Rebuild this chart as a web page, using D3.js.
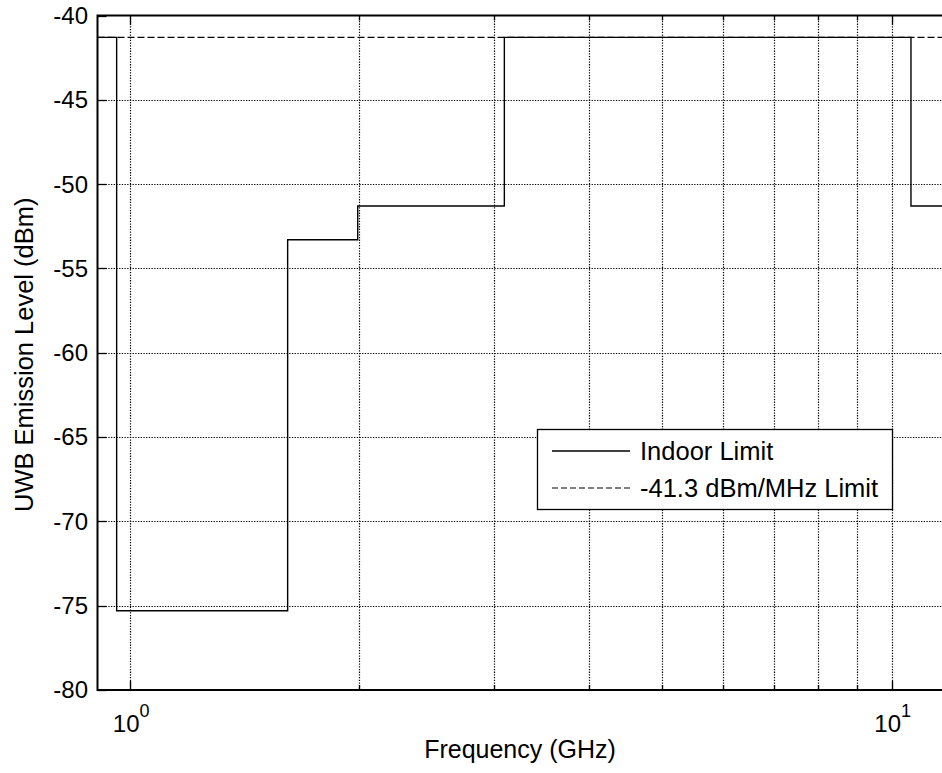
<!DOCTYPE html>
<html>
<head>
<meta charset="utf-8">
<script src="https://cdn.jsdelivr.net/npm/d3@7/dist/d3.min.js"></script>
<style>
  html, body { margin: 0; padding: 0; background: #fff; }
  svg text { font-family: "Liberation Sans", Arial, sans-serif; fill: #000; }
</style>
</head>
<body>
<svg id="chart" width="942" height="773"></svg>
<script>
// ---- data ----
const freqEdges = [0.906, 0.96, 1.61, 1.99, 3.1, 10.6, 12];   // GHz
const indoorLevels = [-41.3, -75.3, -53.3, -51.3, -41.3, -51.3]; // dBm
const limitLevel = -41.3;
const xDomain = [0.906, 12];
const yDomain = [-80, -40];
const yTicks = [-80, -75, -70, -65, -60, -55, -50, -45, -40];
const xMajorTicks = [1, 10];
const xMajorLabels = ["0", "1"];
const xMinorTicks = [2, 3, 4, 5, 6, 7, 8, 9];
const legendLabels = ["Indoor Limit", "-41.3 dBm/MHz Limit"];
const xTitle = "Frequency (GHz)";
const yTitle = "UWB Emission Level (dBm)";

// ---- layout ----
const L = 97.5, T = 15.5, B = 690, R = 952;
const svg = d3.select("#chart");
const x = d3.scaleLog().domain(xDomain).range([L, R]);
const y = d3.scaleLinear().domain(yDomain).range([B, T]);

svg.append("defs").append("clipPath").attr("id", "clip")
  .append("rect").attr("x", L).attr("y", T).attr("width", R - L).attr("height", B - T);

// grid
const grid = svg.append("g").attr("stroke", "#000").attr("stroke-width", 1.2)
  .attr("stroke-dasharray", "1.3,1.4").attr("clip-path", "url(#clip)");
const allX = xMajorTicks.concat(xMinorTicks);
grid.selectAll("line.gx").data(allX).join("line")
  .attr("x1", d => Math.round(x(d)) + 0.5).attr("x2", d => Math.round(x(d)) + 0.5)
  .attr("y1", T).attr("y2", B);
grid.selectAll("line.gy").data(yTicks.slice(1, -1)).join("line")
  .attr("y1", d => Math.round(y(d)) + 0.5).attr("y2", d => Math.round(y(d)) + 0.5)
  .attr("x1", L).attr("x2", R);

// ticks (inward)
const ticks = svg.append("g").attr("stroke", "#000").attr("stroke-width", 1.3);
allX.forEach(d => {
  const len = xMajorTicks.includes(d) ? 9 : 5;
  const xx = Math.round(x(d)) + 0.5;
  ticks.append("line").attr("x1", xx).attr("x2", xx).attr("y1", B).attr("y2", B - len);
  ticks.append("line").attr("x1", xx).attr("x2", xx).attr("y1", T).attr("y2", T + len);
});
yTicks.forEach(d => {
  const yy = Math.round(y(d)) + 0.5;
  ticks.append("line").attr("x1", L).attr("x2", L + 9).attr("y1", yy).attr("y2", yy);
});

// data lines
const plot = svg.append("g").attr("clip-path", "url(#clip)");
const stepPts = freqEdges.slice(0, -1).map((f, i) => [f, indoorLevels[i]]);
stepPts.push([freqEdges[freqEdges.length - 1], indoorLevels[indoorLevels.length - 1]]);
const line = d3.line().x(d => x(d[0])).y(d => y(d[1])).curve(d3.curveStepAfter);
plot.append("path").attr("d", line(stepPts)).attr("fill", "none")
  .attr("stroke", "#000").attr("stroke-width", 1.4);
plot.append("path").attr("d", d3.line().x(d => x(d[0])).y(d => y(d[1]))([[xDomain[0], limitLevel], [xDomain[1], limitLevel]]))
  .attr("fill", "none").attr("stroke", "#000").attr("stroke-width", 1.2)
  .attr("stroke-dasharray", "7,3");

// axes box (left, top, bottom)
svg.append("path").attr("d", `M${R},${T}H${L}V${B}H${R}`)
  .attr("fill", "none").attr("stroke", "#000").attr("stroke-width", 2);

// tick labels
const FS = 24;
svg.append("g").selectAll("text").data(yTicks).join("text")
  .attr("x", 88).attr("y", d => y(d)).attr("dy", "0.35em")
  .attr("text-anchor", "end").attr("font-size", FS).text(d => d);
const xl = svg.append("g").selectAll("text").data(xMajorTicks).join("text")
  .attr("x", d => x(d) + 1).attr("y", 732).attr("text-anchor", "middle").attr("font-size", FS);
xl.append("tspan").text("10");
xl.append("tspan").attr("dy", -15).attr("font-size", 18).text((d, i) => xMajorLabels[i]);

// axis titles
svg.append("text").attr("x", 520).attr("y", 758).attr("text-anchor", "middle")
  .attr("font-size", 25).text(xTitle);
svg.append("text").attr("transform", `translate(33,${(T + B) / 2 + 2}) rotate(-90)`)
  .attr("text-anchor", "middle").attr("font-size", 25.5).text(yTitle);

// legend
const lg = svg.append("g");
lg.append("rect").attr("x", 537.5).attr("y", 429.5).attr("width", 355).attr("height", 80)
  .attr("fill", "#fff").attr("stroke", "#000").attr("stroke-width", 1.3);
const dashes = [null, "6,3"];
legendLabels.forEach((t, i) => {
  const yy = 451 + i * 37;
  lg.append("line").attr("x1", 552).attr("x2", 630).attr("y1", yy).attr("y2", yy)
    .attr("stroke", "#000").attr("stroke-width", i === 0 ? 1.4 : 1.2)
    .attr("stroke-dasharray", dashes[i]);
  lg.append("text").attr("x", 640).attr("y", yy).attr("dy", "0.35em")
    .attr("font-size", 25.5).text(t);
});
</script>
</body>
</html>
